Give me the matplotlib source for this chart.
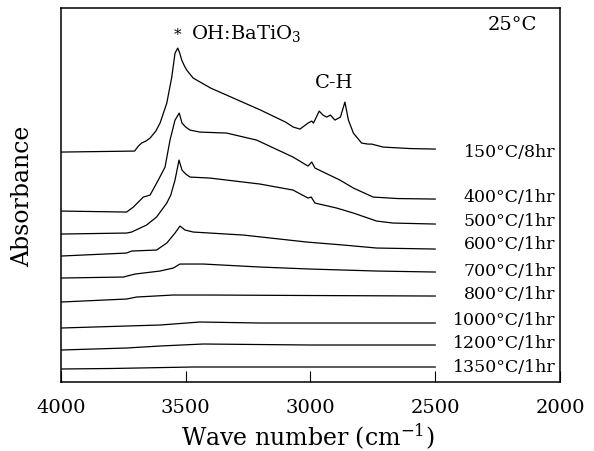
import matplotlib
matplotlib.use("Agg")
import matplotlib.pyplot as plt
import numpy as np

plt.rcParams['font.family'] = ['DejaVu Serif']
plt.rcParams['mathtext.fontset'] = 'dejavuserif'

# ---- data (wave number, stacked absorbance, arbitrary units) ----
labels = ["150°C/8hr", "400°C/1hr", "500°C/1hr", "600°C/1hr", "700°C/1hr",
          "800°C/1hr", "1000°C/1hr", "1200°C/1hr", "1350°C/1hr"]

wn_150 = [4000, 3705, 3690, 3677, 3660, 3643, 3620, 3603, 3576, 3556, 3543, 3532, 3524,
          3516, 3505, 3496, 3480, 3470, 3400, 3300, 3200, 3100, 3069, 3042, 3010, 2995,
          2988, 2965, 2950, 2935, 2920, 2902, 2880, 2862, 2848, 2828, 2795, 2770, 2755,
          2709, 2600, 2500]
ab_150 = [2.30, 2.31, 2.36, 2.39, 2.41, 2.44, 2.51, 2.59, 2.79, 3.05, 3.29, 3.34, 3.29,
          3.22, 3.16, 3.12, 3.07, 3.04, 2.94, 2.83, 2.72, 2.60, 2.55, 2.53, 2.59, 2.61,
          2.59, 2.71, 2.67, 2.65, 2.67, 2.62, 2.65, 2.80, 2.62, 2.49, 2.39, 2.38, 2.38,
          2.35, 2.335, 2.33]

wn_400 = [4000, 3737, 3710, 3670, 3643, 3610, 3583, 3563, 3543, 3526, 3515, 3500, 3483,
          3443, 3336, 3216, 3070, 3010, 2995, 2982, 2882, 2828, 2749, 2650, 2500]
ab_400 = [1.71, 1.70, 1.75, 1.85, 1.87, 2.02, 2.15, 2.42, 2.62, 2.69, 2.59, 2.55, 2.52,
          2.50, 2.49, 2.42, 2.25, 2.16, 2.20, 2.14, 2.02, 1.94, 1.85, 1.835, 1.83]

wn_500 = [4000, 3737, 3717, 3683, 3657, 3617, 3576, 3560, 3543, 3527, 3515, 3500, 3483,
          3403, 3202, 3070, 3010, 2997, 2982, 2895, 2828, 2735, 2669, 2500]
ab_500 = [1.48, 1.49, 1.50, 1.54, 1.57, 1.65, 1.79, 1.87, 2.02, 2.22, 2.12, 2.08, 2.05,
          2.04, 1.98, 1.92, 1.84, 1.85, 1.79, 1.74, 1.69, 1.61, 1.59, 1.58]

wn_600 = [4000, 3737, 3717, 3617, 3576, 3543, 3523, 3503, 3470, 3269, 3015, 2868, 2735, 2500]
ab_600 = [1.26, 1.29, 1.31, 1.32, 1.39, 1.49, 1.56, 1.52, 1.50, 1.47, 1.40, 1.37, 1.34, 1.33]

wn_700 = [4000, 3750, 3703, 3603, 3550, 3523, 3430, 3202, 3002, 2735, 2500]
ab_700 = [1.04, 1.05, 1.08, 1.11, 1.14, 1.18, 1.18, 1.15, 1.13, 1.11, 1.10]

wn_800 = [4000, 3737, 3697, 3550, 3403, 3000, 2500]
ab_800 = [0.80, 0.83, 0.85, 0.87, 0.87, 0.865, 0.86]

wn_1000 = [4000, 3737, 3603, 3443, 3202, 2500]
ab_1000 = [0.54, 0.56, 0.57, 0.60, 0.59, 0.59]

wn_1200 = [4000, 3737, 3603, 3430, 3000, 2500]
ab_1200 = [0.32, 0.34, 0.36, 0.38, 0.37, 0.37]

wn_1350 = [4000, 3800, 3470, 2500]
ab_1350 = [0.13, 0.135, 0.15, 0.15]

label_y = [2.30, 1.85, 1.61, 1.38, 1.11, 0.88, 0.62, 0.39, 0.15]

series = [(wn_150, ab_150), (wn_400, ab_400), (wn_500, ab_500), (wn_600, ab_600),
          (wn_700, ab_700), (wn_800, ab_800), (wn_1000, ab_1000), (wn_1200, ab_1200),
          (wn_1350, ab_1350)]

xticks = [4000, 3500, 3000, 2500, 2000]

# ---- figure ----
fig = plt.figure(figsize=(5.94, 4.51), dpi=100)
ax = fig.add_axes([0.1027, 0.153, 0.840, 0.829])

for (w, a) in series:
    ax.plot(w, a, color='black', lw=0.9)

for lab, yy in zip(labels, label_y):
    ax.text(2018, yy, lab, ha='right', va='center', fontsize=12.5)

ax.text(3531, 3.47, "*", ha='center', va='center', fontsize=11)
ax.text(3478, 3.49, "OH:BaTiO$_3$", ha='left', va='center', fontsize=14)
ax.text(2906, 2.99, "C-H", ha='center', va='center', fontsize=14)
ax.text(2092, 3.57, "25°C", ha='right', va='center', fontsize=14)

ax.set_xlim(4000, 2000)
ax.set_ylim(0, 3.74)
ax.set_xticks(xticks)
ax.set_xticklabels([str(t) for t in xticks], fontsize=14)
ax.set_yticks([])
ax.tick_params(axis='x', direction='in', length=8, width=0.8, pad=12)
for sp in ax.spines.values():
    sp.set_linewidth(1.1)

ax.set_xlabel("Wave number (cm$^{-1}$)", fontsize=17)
ax.xaxis.set_label_coords(0.495, -0.147)
ax.xaxis.label.set_va('center')
fig.text(0.038, 0.565, "Absorbance", rotation=90, ha='center', va='center', fontsize=17)

fig.savefig("out.png", dpi=100)
